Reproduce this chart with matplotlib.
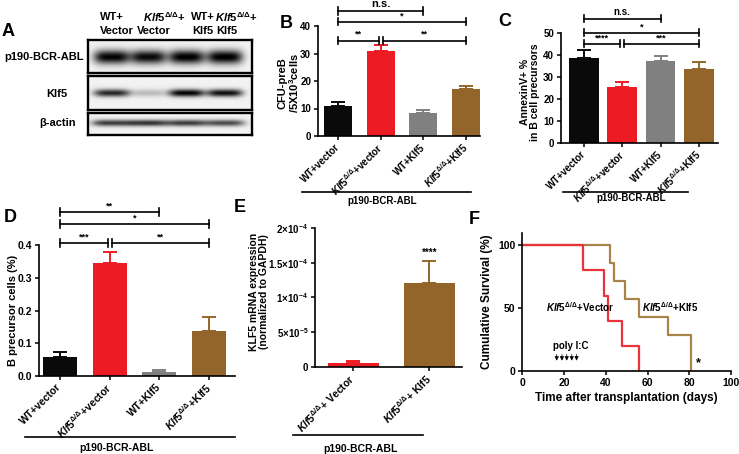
import numpy as np
import matplotlib
matplotlib.use('Agg')
import matplotlib.pyplot as plt
from matplotlib.lines import Line2D

plt.rcParams['font.family'] = ['Liberation Sans', 'DejaVu Sans']
plt.rcParams['font.weight'] = 'bold'
plt.rcParams['axes.labelweight'] = 'bold'
plt.rcParams['mathtext.fontset'] = 'custom'
plt.rcParams['mathtext.rm'] = 'Liberation Sans:bold'
plt.rcParams['mathtext.it'] = 'Liberation Sans:italic:bold'
plt.rcParams['mathtext.bf'] = 'Liberation Sans:bold'
plt.rcParams['axes.linewidth'] = 1.2

KO = r'$\mathit{Klf5}^{Δ/Δ}$'

# ---- data ----
# A: western blot band strength (0..1) per lane
blot_rows = ['p190-BCR-ABL', 'Klf5', 'β-actin']
p190_level = [0.95, 0.92, 0.97, 0.97]
klf5_level = [0.80, 0.22, 0.95, 0.90]
actin_level = [0.72, 0.76, 0.72, 0.66]

groups4 = ['WT+vector', KO + '+vector', 'WT+Klf5', KO + '+Klf5']
colors4 = ['#0a0a0a', '#ed1c24', '#808080', '#94652a']

b_mean = [11.0, 31.0, 8.3, 17.0]
b_sem = [1.5, 2.2, 1.2, 1.2]
c_mean = [38.7, 25.3, 37.3, 33.7]
c_sem = [3.6, 2.2, 2.2, 2.8]
d_mean = [0.058, 0.345, 0.012, 0.138]
d_sem = [0.015, 0.035, 0.005, 0.042]

e_groups = [KO + '+ Vector', KO + '+ Klf5']
e_mean = [6e-6, 1.2e-4]
e_sem = [2e-6, 3.3e-5]
e_ticks = [0, 5e-5, 1e-4, 1.5e-4, 2e-4]
e_ticklabels = ['0', r'$5{\times}10^{-5}$', r'$1{\times}10^{-4}$',
                r'$1.5{\times}10^{-4}$', r'$2{\times}10^{-4}$']

f_vec_days = [0, 29, 39, 41, 48, 56]
f_vec_surv = [100, 80, 60, 40, 20, 0]
f_klf_days = [0, 42, 44, 49, 56, 70, 81]
f_klf_surv = [100, 85.7, 71.4, 57.1, 42.9, 28.6, 0]
polyic_days = [16.5, 19, 21.3, 23.7, 26]

W, H = 739, 454
fig = plt.figure(figsize=(W / 100, H / 100), dpi=100)


def px_axes(l, t, r, b):
    return fig.add_axes([l / W, 1 - b / H, (r - l) / W, (b - t) / H])


def fig_line(x0, x1, y):
    fig.add_artist(Line2D([x0 / W, x1 / W], [1 - y / H, 1 - y / H],
                          color='black', lw=1.2))


def fig_text(x, y, s, **kw):
    fig.text(x / W, 1 - y / H, s, **kw)


def style_ax(ax):
    for s in ['top', 'right']:
        ax.spines[s].set_visible(False)
    ax.tick_params(direction='out', length=3, width=1.1, labelsize=7, pad=2)


def sig(ax, x0, x1, y, label, h, fs=6.5):
    ax.plot([x0, x1], [y, y], color='black', lw=1.2, clip_on=False)
    for x in (x0, x1):
        ax.plot([x, x], [y - h, y + h], color='black', lw=1.2, clip_on=False)
    ax.text((x0 + x1) / 2, y + h * 0.4, label, ha='center', va='bottom',
            fontsize=fs, clip_on=False)


def bar_panel(ax, means, sems, cols, width, labels, fs=7):
    x = np.arange(len(means))
    ax.bar(x, means, width=width, color=cols, zorder=2)
    for xi, m, s, c in zip(x, means, sems, cols):
        ax.errorbar(xi, m, yerr=[[0], [s]], fmt='none', ecolor=c,
                    elinewidth=1.4, capsize=5, capthick=1.4, zorder=1)
    style_ax(ax)
    ax.set_xticks(x)
    ax.set_xticklabels(labels, rotation=45, ha='right', va='center',
                       rotation_mode='anchor', fontsize=fs)
    ax.tick_params(axis='x', pad=4)


# ---- A: western blot ----
lane_x = [111.7, 148.3, 186.7, 225.0]


def draw_blot(top, bottom, levels, yc, bh, bw):
    ax = px_axes(88, top, 252, bottom)
    xs = np.linspace(88, 252, 330)
    ys = np.linspace(top, bottom, int((bottom - top) * 3))
    X, Y = np.meshgrid(xs, ys)
    img = np.full(X.shape, 0.05)
    for c, v in zip(lane_x, levels):
        img += v * np.exp(-np.abs((X - c) / bw) ** 4) * np.exp(-((Y - yc) / bh) ** 2)
    ax.imshow(np.clip(img, 0, 1), cmap='gray_r', vmin=0, vmax=1,
              extent=(88, 252, bottom, top), aspect='auto', interpolation='bilinear')
    ax.set_xlim(88, 252)
    ax.set_ylim(bottom, top)
    ax.set_xticks([])
    ax.set_yticks([])
    for s in ax.spines.values():
        s.set_linewidth(1.7)


draw_blot(40, 73, p190_level, 57, 7.0, 18)
draw_blot(76, 110, klf5_level, 93, 3.8, 18)
draw_blot(113, 135, actin_level, 123.5, 3.2, 20)

fig_text(44, 57, blot_rows[0], ha='center', va='center', fontsize=8)
fig_text(57, 94, blot_rows[1], ha='center', va='center', fontsize=8)
fig_text(58, 123, blot_rows[2], ha='center', va='center', fontsize=8)

fig_text(100, 17, 'WT+', ha='left', va='center', fontsize=8)
fig_text(100, 31, 'Vector', ha='left', va='center', fontsize=8)
fig_text(143, 17, KO + '+', ha='left', va='center', fontsize=8)
fig_text(137, 31, 'Vector', ha='left', va='center', fontsize=8)
fig_text(191, 17, 'WT+', ha='left', va='center', fontsize=8)
fig_text(192, 31, 'Klf5', ha='left', va='center', fontsize=8)
fig_text(215, 17, KO + '+', ha='left', va='center', fontsize=8)
fig_text(216, 31, 'Klf5', ha='left', va='center', fontsize=8)

# ---- B ----
axB = px_axes(318, 26, 480, 136)
bar_panel(axB, b_mean, b_sem, colors4, 0.66, groups4)
axB.set_xlim(-0.47, 3.33)
axB.set_ylim(0, 40)
axB.set_yticks([0, 10, 20, 30, 40])
sig(axB, 0, 2, 45.5, 'n.s.', 1.4, fs=8)
sig(axB, 0, 3, 41.6, '*', 1.4)
sig(axB, 0, 0.95, 34.7, '**', 1.4)
sig(axB, 1.05, 3, 34.7, '**', 1.4)
fig_text(289, 83, 'CFU-preB\n/5X10$^3$cells', rotation=90, ha='center',
         va='center', fontsize=8, linespacing=1.0)
fig_line(302, 471, 191.7)
fig_text(382, 201, 'p190-BCR-ABL', ha='center', va='center', fontsize=7)

# ---- C ----
axC = px_axes(561, 32.7, 718, 143)
bar_panel(axC, c_mean, c_sem, colors4, 0.78, groups4)
axC.set_xlim(-0.6, 3.5)
axC.set_ylim(0, 50)
axC.set_yticks([0, 10, 20, 30, 40, 50])
sig(axC, 0, 2, 56.3, 'n.s.', 1.6, fs=7)
sig(axC, 0, 3, 50.0, '*', 1.6)
sig(axC, 0, 0.95, 44.9, '****', 1.6)
sig(axC, 1.05, 3, 44.9, '***', 1.6)
fig_text(530, 92, 'AnnexinV+ %\nin B cell precursors', rotation=90, ha='center',
         va='center', fontsize=7.5, linespacing=1.0)
fig_line(563, 688, 191.7)
fig_text(631, 198, 'p190-BCR-ABL', ha='center', va='center', fontsize=7)

# ---- D ----
axD = px_axes(39, 245.3, 235, 376)
bar_panel(axD, d_mean, d_sem, colors4, 0.68, groups4, fs=7.5)
axD.set_xlim(-0.42, 3.52)
axD.set_ylim(0, 0.4)
axD.set_yticks([0, 0.1, 0.2, 0.3, 0.4])
axD.set_yticklabels(['0.0', '0.1', '0.2', '0.3', '0.4'])
axD.tick_params(axis='y', labelsize=7.5)
sig(axD, 0, 2, 0.501, '**', 0.012)
sig(axD, 0, 3, 0.465, '*', 0.012)
sig(axD, 0, 0.96, 0.407, '***', 0.012)
sig(axD, 1.04, 3, 0.407, '**', 0.012)
fig_text(13, 310, 'B precursor cells (%)', rotation=90, ha='center',
         va='center', fontsize=8)
fig_line(25, 235, 436.7)
fig_text(116, 448, 'p190-BCR-ABL', ha='center', va='center', fontsize=7.5)

# ---- E ----
axE = px_axes(315, 228, 462, 366.7)
bar_panel(axE, e_mean, e_sem, ['#ed1c24', '#94652a'], 0.67, e_groups, fs=7.5)
axE.set_xlim(-0.5, 1.43)
axE.set_ylim(0, 2e-4)
axE.set_yticks(e_ticks)
axE.set_yticklabels(e_ticklabels)
axE.tick_params(axis='y', labelsize=7)
axE.text(1, e_mean[1] + e_sem[1] + 4e-6, '****', ha='center', va='bottom',
         fontsize=7)
fig_text(259, 292, 'KLF5 mRNA expression\n(normalized to GAPDH)', rotation=90,
         ha='center', va='center', fontsize=7.5, linespacing=1.1)
fig_line(293, 423, 435)
fig_text(360, 449, 'p190-BCR-ABL', ha='center', va='center', fontsize=7.5)

# ---- F ----
axF = px_axes(522.3, 232.7, 731, 371)
axF.step(f_klf_days, f_klf_surv, where='post', color='#a8844a', lw=1.6)
axF.step(f_vec_days, f_vec_surv, where='post', color='#e8343a', lw=1.6)
style_ax(axF)
axF.set_xlim(0, 100)
axF.set_ylim(0, 110)
axF.set_xticks([0, 20, 40, 60, 80, 100])
axF.set_yticks([0, 50, 100])
axF.tick_params(labelsize=7.5)
axF.set_xlabel('Time after transplantation (days)', fontsize=8.5, labelpad=3)
axF.set_ylabel('Cumulative Survival (%)', fontsize=8.5, labelpad=4)
axF.text(11.4, 51, KO + '+Vector', ha='left', va='center', fontsize=7)
axF.text(57.4, 51, KO + '+Klf5', ha='left', va='center', fontsize=7)
axF.text(23, 19.5, 'poly I:C', ha='center', va='center', fontsize=7)
for d in polyic_days:
    axF.annotate('', xy=(d, 6), xytext=(d, 15.5),
                 arrowprops=dict(arrowstyle='-|>', color='black', lw=0.5,
                                 mutation_scale=6))
axF.text(84.4, 6.6, '*', ha='center', va='center', fontsize=9)

# ---- panel letters ----
for lab, x, y in [('A', 8, 31), ('B', 286, 23), ('C', 505, 22),
                  ('D', 10, 217), ('E', 240, 207), ('F', 474, 220)]:
    fig_text(x, y, lab, ha='center', va='center', fontsize=13)

fig.savefig('out.png', dpi=100)
